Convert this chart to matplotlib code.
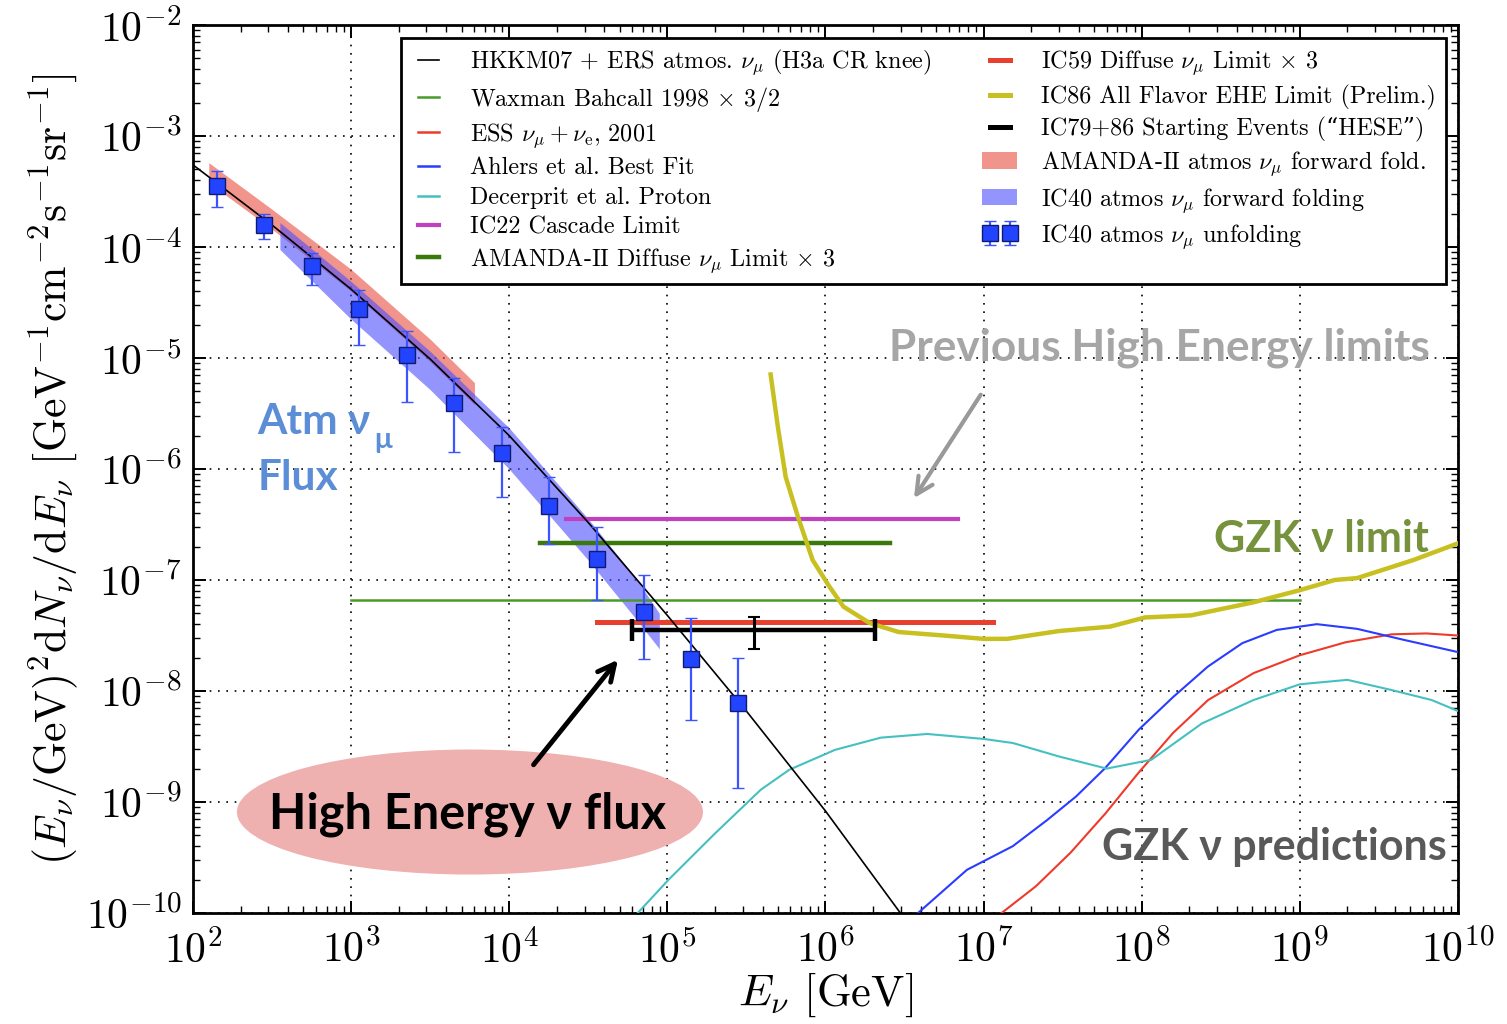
import matplotlib
matplotlib.use('Agg')
import matplotlib.pyplot as plt
from matplotlib.lines import Line2D
from matplotlib.patches import Patch, Ellipse
from matplotlib.ticker import NullFormatter

# Computer Modern look for axes and legend
plt.rcParams['font.family'] = ['cmr10', 'DejaVu Serif']
plt.rcParams['mathtext.fontset'] = 'cm'
plt.rcParams['axes.formatter.use_mathtext'] = True

# 大气中微子模型 HKKM07 + ERS
atm_E = [1e2, 3.16e2, 1e3, 3.16e3, 1e4, 3.16e4, 1e5, 3.16e5, 1e6, 3.16e6]
atm_F = [5.5e-4, 1.58e-4, 4.17e-5, 9.8e-6, 2.0e-6, 3.3e-7, 4.8e-8, 6.6e-9, 8.3e-10, 8.9e-11]

# IC40 unfolding 数据点
unf_E = [142, 281, 566, 1120, 2260, 4470, 9000, 1.78e4, 3.59e4, 7.13e4, 1.41e5, 2.8e5]
unf_F = [3.55e-4, 1.58e-4, 6.8e-5, 2.75e-5, 1.07e-5, 3.9e-6, 1.38e-6, 4.6e-7, 1.55e-7, 5.2e-8, 1.95e-8, 7.8e-9]
unf_hi = [4.8e-4, 2.0e-4, 8.9e-5, 4.1e-5, 1.74e-5, 6.6e-6, 2.4e-6, 8.5e-7, 3.0e-7, 1.12e-7, 4.5e-8, 2.0e-8]
unf_lo = [2.3e-4, 1.17e-4, 4.5e-5, 1.32e-5, 4.0e-6, 1.41e-6, 5.6e-7, 2.1e-7, 6.6e-8, 1.95e-8, 5.5e-9, 1.35e-9]

# AMANDA-II forward folding band
amanda_E = [126, 316, 1000, 3160, 6030]
amanda_hi = [5.75e-4, 2.19e-4, 6.3e-5, 1.48e-5, 6.0e-6]
amanda_lo = [3.8e-4, 1.45e-4, 4.0e-5, 9.3e-6, 3.8e-6]

# IC40 forward folding band
ic40_E = [355, 1000, 3160, 1e4, 3.16e4, 6.3e4, 8.9e4]
ic40_hi = [1.66e-4, 4.9e-5, 1.15e-5, 2.34e-6, 3.55e-7, 1.05e-7, 5.0e-8]
ic40_lo = [9.5e-5, 2.24e-5, 5.2e-6, 1.0e-6, 1.51e-7, 4.5e-8, 2.4e-8]

# 水平上限线: (E_min, E_max, flux)
wb_limit = (1e3, 1e9, 6.6e-8)
ic22_limit = (2.3e4, 6.9e6, 3.55e-7)
amanda_limit = (1.57e4, 2.57e6, 2.14e-7)
ic59_limit = (3.59e4, 1.15e7, 4.2e-8)

# HESE: 中心能量, 能量范围, 通量及误差
hese_E = 3.55e5
hese_Erange = (6.0e4, 2.06e6)
hese_F = 3.55e-8
hese_Frange = (2.4e-8, 4.6e-8)

# GZK 模型
ahlers_E = [3.85e6, 7.85e6, 1.53e7, 2.53e7, 3.84e7, 5.83e7, 9.6e7, 1.59e8, 2.62e8,
            4.33e8, 7.14e8, 1.28e9, 2.3e9, 4.49e9, 1e10]
ahlers_F = [1.0e-10, 2.45e-10, 4.0e-10, 6.9e-10, 1.12e-9, 2.0e-9, 4.5e-9, 8.9e-9, 1.66e-8,
            2.7e-8, 3.55e-8, 4.0e-8, 3.63e-8, 2.9e-8, 2.24e-8]
ess_E = [1.3e7, 2.14e7, 3.55e7, 5.9e7, 9.5e7, 1.58e8, 2.63e8, 5.1e8, 1e9, 1.95e9, 3.8e9, 6.3e9, 1e10]
ess_F = [1.0e-10, 1.74e-10, 3.5e-10, 7.9e-10, 1.82e-9, 4.2e-9, 8.3e-9, 1.45e-8, 2.1e-8,
         2.75e-8, 3.24e-8, 3.3e-8, 3.16e-8]
dec_E = [6.5e4, 1.02e5, 2.0e5, 3.9e5, 5.9e5, 1.15e6, 2.24e6, 4.4e6, 1e7, 1.53e7, 3.0e7,
         6.0e7, 1.15e8, 2.4e8, 5.1e8, 1e9, 2.0e9, 3.8e9, 6.8e9, 1e10]
dec_F = [1.0e-10, 2.0e-10, 5.2e-10, 1.29e-9, 1.95e-9, 2.95e-9, 3.8e-9, 4.1e-9, 3.7e-9, 3.4e-9,
         2.57e-9, 2.0e-9, 2.4e-9, 5.1e-9, 8.3e-9, 1.15e-8, 1.26e-8, 1.02e-8, 8.3e-9, 6.6e-9]

# IC86 EHE 上限
ehe_E = [4.5e5, 5.0e5, 5.6e5, 6.7e5, 8.3e5, 1.06e6, 1.3e6, 1.9e6, 2.9e6, 5.6e6, 1.0e7, 1.41e7,
         3.0e7, 6.3e7, 1.05e8, 2.05e8, 5.1e8, 1e9, 1.66e9, 2.3e9, 5.2e9, 1e10]
ehe_F = [7.1e-6, 2.4e-6, 8.5e-7, 3.7e-7, 1.51e-7, 8.7e-8, 5.75e-8, 4.1e-8, 3.4e-8, 3.16e-8,
         2.95e-8, 2.95e-8, 3.47e-8, 3.8e-8, 4.6e-8, 4.8e-8, 6.3e-8, 8.1e-8, 1.0e-7, 1.04e-7,
         1.51e-7, 2.14e-7]

c_atm = 'black'
c_wb = '#4a9a2a'
c_ess = '#ee3a2a'
c_ahlers = '#2a3cff'
c_dec = '#45c0c0'
c_ic22 = '#c040c0'
c_amanda = '#3a7a0a'
c_ic59 = '#e8402f'
c_ehe = '#c8c020'
c_hese = 'black'

fig = plt.figure(figsize=(15.07, 10.24), dpi=100)
ax = fig.add_axes([0.128, 0.1084, 0.8395, 0.8672])

ax.fill_between(amanda_E, amanda_lo, amanda_hi, color=(0.9, 0.3, 0.25), alpha=0.6, lw=0, zorder=2)
ax.fill_between(ic40_E, ic40_lo, ic40_hi, color=(0.3, 0.3, 1.0), alpha=0.6, lw=0, zorder=2)

ax.plot(atm_E, atm_F, color=c_atm, lw=1.2, zorder=4)
ax.plot(wb_limit[:2], [wb_limit[2]] * 2, color=c_wb, lw=1.8, zorder=3)
ax.plot(ess_E, ess_F, color=c_ess, lw=1.5, zorder=3)
ax.plot(ahlers_E, ahlers_F, color=c_ahlers, lw=1.5, zorder=3)
ax.plot(dec_E, dec_F, color=c_dec, lw=1.5, zorder=3)
ax.plot(ic22_limit[:2], [ic22_limit[2]] * 2, color=c_ic22, lw=3, zorder=3)
ax.plot(amanda_limit[:2], [amanda_limit[2]] * 2, color=c_amanda, lw=3.2, zorder=3)
ax.plot(ic59_limit[:2], [ic59_limit[2]] * 2, color=c_ic59, lw=3.6, zorder=3)
ax.plot(ehe_E, ehe_F, color=c_ehe, lw=3.2, zorder=3)

# HESE 能量区间与误差
ax.errorbar([hese_E], [hese_F],
            xerr=[[hese_E - hese_Erange[0]], [hese_Erange[1] - hese_E]],
            fmt='none', ecolor=c_hese, elinewidth=3.2, capsize=8, capthick=3.2, zorder=5)
ax.errorbar([hese_E], [hese_F],
            yerr=[[hese_F - hese_Frange[0]], [hese_Frange[1] - hese_F]],
            fmt='none', ecolor=c_hese, elinewidth=2.2, capsize=4, capthick=1.5, zorder=5)

yerr = [[f - lo for f, lo in zip(unf_F, unf_lo)], [hi - f for f, hi in zip(unf_F, unf_hi)]]
unf = ax.errorbar(unf_E, unf_F, yerr=yerr, fmt='s', ms=11, mfc='#2244ff', mec='#101a70',
                  mew=1, ecolor='#3a55ff', elinewidth=1.6, capsize=4.5, capthick=1.2, zorder=6)

ax.set_xscale('log')
ax.set_yscale('log')
ax.set_xlim(1e2, 1e10)
ax.set_ylim(1e-10, 1e-2)
ax.xaxis.set_minor_formatter(NullFormatter())
ax.yaxis.set_minor_formatter(NullFormatter())

ax.grid(True, which='major', color='black', linestyle=(0, (1, 4)), lw=1.2)
ax.tick_params(which='both', direction='in', top=True, right=True, labelsize=30)
ax.tick_params(which='major', length=9, width=1.4)
ax.tick_params(which='minor', length=5, width=1.0)
ax.tick_params(axis='x', pad=12)
ax.tick_params(axis='y', pad=8)
for s in ax.spines.values():
    s.set_linewidth(2)

ax.set_xlabel(r'$E_\nu$ [GeV]', fontsize=32, labelpad=0)
ax.set_ylabel(r'$(E_\nu/\mathrm{GeV})^2\mathrm{d}N_\nu/\mathrm{d}E_\nu$ [GeV$^{-1}$cm$^{-2}$s$^{-1}$sr$^{-1}$]',
              fontsize=31.5, labelpad=4)

# 图例
handles = [
    Line2D([], [], color=c_atm, lw=1.2),
    Line2D([], [], color=c_wb, lw=1.8),
    Line2D([], [], color=c_ess, lw=1.8),
    Line2D([], [], color=c_ahlers, lw=1.8),
    Line2D([], [], color=c_dec, lw=1.8),
    Line2D([], [], color=c_ic22, lw=3),
    Line2D([], [], color=c_amanda, lw=3.2),
    Line2D([], [], color=c_ic59, lw=3.6),
    Line2D([], [], color=c_ehe, lw=3.6),
    Line2D([], [], color=c_hese, lw=3.6),
    Patch(facecolor=(0.9, 0.3, 0.25), alpha=0.6, lw=0),
    Patch(facecolor=(0.3, 0.3, 1.0), alpha=0.6, lw=0),
    unf,
]
labels = [
    r'HKKM07 + ERS atmos. $\nu_\mu$ (H3a CR knee)',
    r'Waxman Bahcall 1998 $\times$ 3/2',
    r'ESS $\nu_\mu + \nu_{\rm e}$, 2001',
    'Ahlers et al. Best Fit',
    'Decerprit et al. Proton',
    'IC22 Cascade Limit',
    r'AMANDA-II Diffuse $\nu_\mu$ Limit $\times$ 3',
    r'IC59 Diffuse $\nu_\mu$ Limit $\times$ 3',
    'IC86 All Flavor EHE Limit (Prelim.)',
    'IC79+86 Starting Events (\u201cHESE\u201d)',
    r'AMANDA-II atmos $\nu_\mu$ forward fold.',
    r'IC40 atmos $\nu_\mu$ forward folding',
    r'IC40 atmos $\nu_\mu$ unfolding',
]
leg = ax.legend(handles, labels, loc='upper right', bbox_to_anchor=(0.9905, 0.9854), ncol=2,
                fontsize=17.4, fancybox=False, framealpha=1, edgecolor='black', borderaxespad=0,
                handlelength=1.45, handletextpad=1.0, columnspacing=2.1, labelspacing=0.31,
                numpoints=2, borderpad=0.4)
leg.get_frame().set_linewidth(2)
leg.set_zorder(10)

# 注释文字
sans = ['Lato', 'DejaVu Sans']
ax.text(1.3e8, 9.5e-6, 'Previous High Energy limits', fontsize=31.8, fontweight='bold',
        color='#a6a6a6', family=sans, ha='center', va='baseline', zorder=12)
ax.annotate('', xy=(3.55e6, 5.2e-7), xytext=(9.8e6, 4.9e-6),
            arrowprops=dict(arrowstyle='->', color='#999999', lw=3, mutation_scale=30), zorder=12)

ax.text(257, 2.05e-6, 'Atm \u03bd', fontsize=30.5, fontweight='bold', color='#5b8ed6',
        family=sans, ha='left', va='baseline', zorder=12)
ax.text(1.40e3, 1.55e-6, '\u03bc', fontsize=21, fontweight='bold', color='#5b8ed6',
        family=sans, ha='left', va='baseline', zorder=12)
ax.text(257, 6.5e-7, 'Flux', fontsize=30.5, fontweight='bold', color='#5b8ed6',
        family=sans, ha='left', va='baseline', zorder=12)

ax.text(1.36e9, 1.78e-7, 'GZK \u03bd limit', fontsize=31, fontweight='bold', color='#76923c',
        family=sans, ha='center', va='baseline', zorder=12)
ax.text(6.9e8, 3.0e-10, 'GZK \u03bd predictions', fontsize=31, fontweight='bold', color='#595959',
        family=sans, ha='center', va='baseline', zorder=12)

ax.add_patch(Ellipse((0.219, 0.1137), 0.3684, 0.1408, transform=ax.transAxes,
                     facecolor='#efb0b0', edgecolor='none', zorder=11))
ax.text(0.217, 0.111, 'High Energy \u03bd flux', transform=ax.transAxes, fontsize=35,
        fontweight='bold', color='black', family=sans, ha='center', va='center', zorder=12)
ax.annotate('', xy=(5.0e4, 2.0e-8), xytext=(1.39e4, 2.07e-9),
            arrowprops=dict(arrowstyle='->', color='black', lw=3.5, mutation_scale=30), zorder=12)

plt.savefig('out.png', dpi=100)
